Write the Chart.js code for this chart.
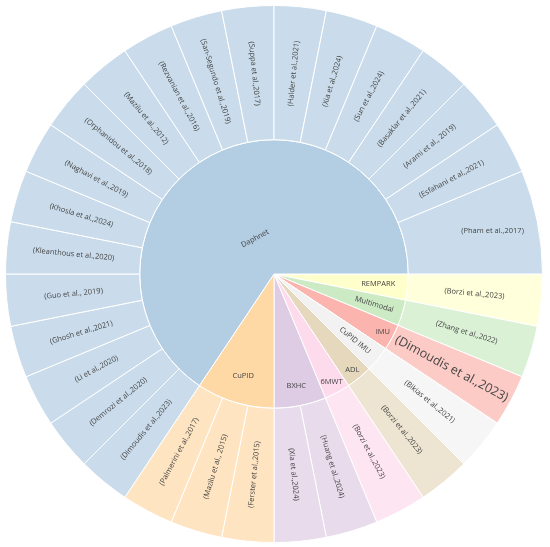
<!DOCTYPE html>
<html>
<head>
<meta charset="utf-8">
<script src="https://cdn.jsdelivr.net/npm/chart.js@4.4.1/dist/chart.umd.min.js"></script>
<style>
  html, body { margin: 0; padding: 0; background: #ffffff; }
  #wrap { width: 550px; height: 547px; position: relative; }
</style>
</head>
<body>
<div id="wrap"><canvas id="c"></canvas></div>
<script>
// ---- data ----
const parentLabels = ['REMPARK', 'Multimodal', 'IMU', 'CuPID IMU', 'ADL', '6MWT', 'BXHC', 'CuPID', 'Daphnet'];
const parentColors = ['rgb(255,255,204)', 'rgb(204,235,197)', 'rgb(251,180,174)', 'rgb(242,242,242)',
                      'rgb(229,216,189)', 'rgb(253,218,236)', 'rgb(222,203,228)', 'rgb(254,217,166)', 'rgb(179,205,227)'];
const paperLabels = ['(Borzi et al.,2023)', '(Zhang et al.,2022)', '(Dimoudis et al.,2023)', '(Bikias et al.,2021)',
  '(Borzi et al.,2023)', '(Borzi et al.,2023)', '(Huang et al.,2024)', '(Xia et al.,2024)',
  '(Ferster et al.,2015)', '(Mazilu et al., 2015)', '(Palmerini et al.,2017)',
  '(Dimoudis et al.,2023)', '(Demrozi et al.,2020)', '(Li et al.,2020)', '(Ghosh et al.,2021)', '(Guo et al., 2019)',
  '(Kleanthous et al.,2020)', '(Khosla et al.,2024)', '(Naghavi et al.,2019)', '(Orphanidou et al.,2018)',
  '(Mazilu et al.,2012)', '(Rezvanian et al.,2016)', '(San-Segundo et al.,2019)', '(Suppa et al.,2017)',
  '(Halder et al.,2021)', '(Xia et al.,2024)', '(Sun et al.,2024)', '(Basaklar et al.,2021)',
  '(Arami et al., 2019)', '(Esfahani et al.,2021)', '(Pham et al.,2017)'];
const paperParents = ['REMPARK', 'Multimodal', 'IMU', 'CuPID IMU', 'ADL', '6MWT', 'BXHC', 'BXHC',
  'CuPID', 'CuPID', 'CuPID',
  'Daphnet', 'Daphnet', 'Daphnet', 'Daphnet', 'Daphnet', 'Daphnet', 'Daphnet', 'Daphnet', 'Daphnet',
  'Daphnet', 'Daphnet', 'Daphnet', 'Daphnet', 'Daphnet', 'Daphnet', 'Daphnet', 'Daphnet', 'Daphnet',
  'Daphnet', 'Daphnet'];
const paperValues = [1, 1, 1, 1, 1, 1, 1, 1,
  1, 1, 1,
  1, 1, 1, 1, 1, 1, 1, 1, 1,
  1, 1, 1, 1, 1, 1, 1, 1, 1,
  1, 2];

// ---- derived ----
const parentValues = parentLabels.map(p =>
  paperValues.reduce((s, v, i) => s + (paperParents[i] === p ? v : 0), 0));
function lighten(rgb, a) {
  const m = rgb.match(/\d+/g).map(Number);
  return 'rgb(' + m.map(c => Math.round(c * a + 255 * (1 - a))).join(',') + ')';
}
const paperColors = paperParents.map(p => lighten(parentColors[parentLabels.indexOf(p)], 0.7));

// ---- label styling (orientation / placement inside each ring) ----
const innerLabelStyle = {
  'REMPARK':   { orient: 'h', r: 0.78 },
  'Multimodal':{ orient: 'r', r: 0.78 },
  'IMU':       { orient: 'h', r: 0.92 },
  'CuPID IMU': { orient: 'r', r: 0.78 },
  'ADL':       { orient: 'h', r: 0.92 },
  '6MWT':      { orient: 'h', r: 0.91 },
  'BXHC':      { orient: 'h', r: 0.85 },
  'CuPID':     { orient: 'h', r: 0.79 },
  'Daphnet':   { orient: 't', r: 0.30 }
};
const outerSpecial = {
  2:  { size: 12.5 },
  30: { orient: 'h', r: 0.66 }
};

function norm(a) {
  while (a > Math.PI / 2) a -= Math.PI;
  while (a <= -Math.PI / 2) a += Math.PI;
  return a;
}

const labelPlugin = {
  id: 'sunLabels',
  afterDatasetsDraw(chart) {
    const ctx = chart.ctx;
    chart.data.datasets.forEach((ds, di) => {
      const meta = chart.getDatasetMeta(di);
      meta.data.forEach((arc, i) => {
        const p = arc.getProps(['x', 'y', 'startAngle', 'endAngle', 'innerRadius', 'outerRadius'], true);
        const mid = (p.startAngle + p.endAngle) / 2;
        let orient = 'r', rf = 0.5, size = 7.5;
        if (ds.ring === 'inner') {
          const st = innerLabelStyle[ds.labels[i]];
          orient = st.orient; rf = st.r;
        } else if (outerSpecial[i]) {
          const st = outerSpecial[i];
          if (st.orient) orient = st.orient;
          if (st.r !== undefined) rf = st.r;
          if (st.size) size = st.size;
        }
        let inner = p.innerRadius;
        const rr = inner + (p.outerRadius - inner) * rf;
        const tx = p.x + Math.cos(mid) * rr;
        const ty = p.y + Math.sin(mid) * rr;
        let rot = 0;
        if (orient === 'r') rot = norm(mid);
        else if (orient === 't') rot = norm(mid + Math.PI / 2);
        ctx.save();
        ctx.translate(tx, ty);
        ctx.rotate(rot);
        ctx.font = size + 'px "Open Sans", "DejaVu Sans", sans-serif';
        ctx.fillStyle = '#444444';
        ctx.textAlign = 'center';
        ctx.textBaseline = 'middle';
        ctx.fillText(ds.labels[i], 0, 0);
        ctx.restore();
      });
    });
  }
};

new Chart(document.getElementById('c'), {
  type: 'doughnut',
  data: {
    datasets: [
      { ring: 'outer', labels: paperLabels, data: paperValues, backgroundColor: paperColors,
        borderColor: '#ffffff', borderWidth: 1, weight: 1 },
      { ring: 'inner', labels: parentLabels, data: parentValues, backgroundColor: parentColors,
        borderColor: '#ffffff', borderWidth: 1, weight: 1 }
    ]
  },
  options: {
    responsive: true,
    maintainAspectRatio: false,
    animation: false,
    rotation: 90,
    cutout: 0,
    layout: { padding: { top: 5, bottom: 4, left: 0, right: 2 } },
    plugins: { legend: { display: false }, tooltip: { enabled: false } }
  },
  plugins: [labelPlugin]
});
</script>
</body>
</html>
